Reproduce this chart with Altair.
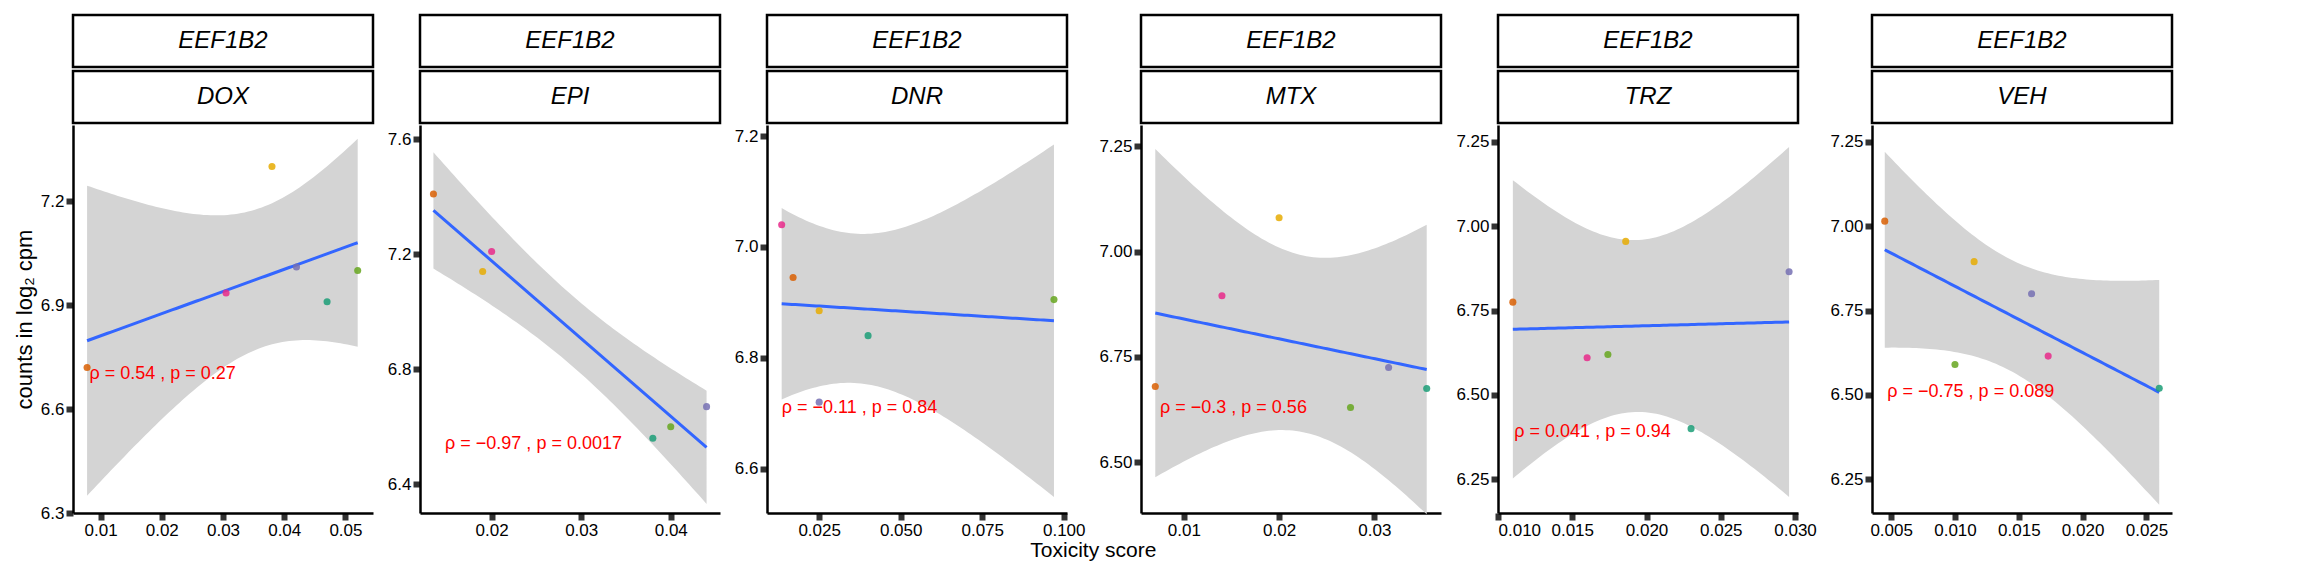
import altair as alt
import numpy as np
import pandas as pd

drugs = ["DOX", "EPI", "DNR", "MTX", "TRZ", "VEH"]
individuals = ["orange", "yellow", "pink", "purple", "teal", "green"]
ind_colors = ["#D95F02", "#E6AB02", "#E7298A", "#7570B3", "#1B9E77", "#66A61E"]

# toxicity score per individual, same order as `individuals`
tox = {
    "DOX": [0.0078, 0.0380, 0.0305, 0.0420, 0.0470, 0.0520],
    "EPI": [0.0135, 0.0190, 0.0200, 0.0440, 0.0380, 0.0400],
    "DNR": [0.0170, 0.0250, 0.0135, 0.0250, 0.0400, 0.0970],
    "MTX": [0.0070, 0.0200, 0.0140, 0.0315, 0.0355, 0.0275],
    "TRZ": [0.0110, 0.0186, 0.0160, 0.0296, 0.0230, 0.0174],
    "VEH": [0.0045, 0.0115, 0.0173, 0.0160, 0.0260, 0.0100],
}
# counts in log2 cpm
cpm = {
    "DOX": [6.72, 7.30, 6.935, 7.01, 6.91, 7.00],
    "EPI": [7.41, 7.14, 7.21, 6.67, 6.56, 6.60],
    "DNR": [6.945, 6.885, 7.04, 6.72, 6.84, 6.905],
    "MTX": [6.68, 7.08, 6.895, 6.725, 6.675, 6.63],
    "TRZ": [6.775, 6.955, 6.61, 6.865, 6.40, 6.62],
    "VEH": [7.015, 6.895, 6.615, 6.80, 6.52, 6.59],
}
labels = {
    "DOX": "ρ = 0.54 , p = 0.27",
    "EPI": "ρ = −0.97 , p = 0.0017",
    "DNR": "ρ = −0.11 , p = 0.84",
    "MTX": "ρ = −0.3 , p = 0.56",
    "TRZ": "ρ = 0.041 , p = 0.94",
    "VEH": "ρ = −0.75 , p = 0.089",
}
label_pos = {
    "DOX": (0.0082, 6.70), "EPI": (0.0148, 6.54), "DNR": (0.0135, 6.71),
    "MTX": (0.0075, 6.63), "TRZ": (0.0111, 6.39), "VEH": (0.0047, 6.51),
}
x_dom = {
    "DOX": [0.0055, 0.0545], "EPI": [0.012, 0.0455], "DNR": [0.009, 0.101],
    "MTX": [0.0055, 0.037], "TRZ": [0.010, 0.0302], "VEH": [0.0035, 0.027],
}
y_dom = {
    "DOX": [6.3, 7.42], "EPI": [6.3, 7.65], "DNR": [6.52, 7.22],
    "MTX": [6.38, 7.3], "TRZ": [6.15, 7.3], "VEH": [6.15, 7.3],
}
y_ticks = {
    "DOX": [6.3, 6.6, 6.9, 7.2], "EPI": [6.4, 6.8, 7.2, 7.6],
    "DNR": [6.6, 6.8, 7.0, 7.2], "MTX": [6.5, 6.75, 7.0, 7.25],
    "TRZ": [6.25, 6.5, 6.75, 7.0, 7.25], "VEH": [6.25, 6.5, 6.75, 7.0, 7.25],
}
y_fmt = {"DOX": ".1f", "EPI": ".1f", "DNR": ".1f", "MTX": ".2f", "TRZ": ".2f", "VEH": ".2f"}
x_fmt = {"DOX": ".2f", "EPI": ".2f", "DNR": ".3f", "MTX": ".2f", "TRZ": ".3f", "VEH": ".3f"}
x_ticks = {
    "DOX": [0.01, 0.02, 0.03, 0.04, 0.05], "EPI": [0.02, 0.03, 0.04],
    "DNR": [0.025, 0.05, 0.075, 0.1], "MTX": [0.01, 0.02, 0.03],
    "TRZ": [0.01, 0.015, 0.02, 0.025, 0.03], "VEH": [0.005, 0.01, 0.015, 0.02, 0.025],
}

W, H, SH = 300, 388, 52
FONT = "Liberation Sans"


def fit_band(x, y):
    # lm fit with 95% confidence band, like geom_smooth(method="lm")
    x, y = np.array(x), np.array(y)
    b, a = np.polyfit(x, y, 1)
    n = len(x)
    s = np.sqrt(np.sum((y - (a + b * x)) ** 2) / (n - 2))
    grid = np.linspace(x.min(), x.max(), 80)
    se = s * np.sqrt(1 / n + (grid - x.mean()) ** 2 / np.sum((x - x.mean()) ** 2))
    fit = a + b * grid
    return pd.DataFrame({"x": grid, "fit": fit, "lo": fit - 2.776 * se, "hi": fit + 2.776 * se})


def strip(text):
    df = pd.DataFrame({"t": [text]})
    box = alt.Chart(df).mark_rect(fill="white", stroke="black", strokeWidth=2.5).encode(
        x=alt.value(0), x2=alt.value(W), y=alt.value(0), y2=alt.value(SH))
    lab = alt.Chart(df).mark_text(font=FONT, fontSize=24, fontStyle="italic").encode(
        text="t:N", x=alt.value(W / 2), y=alt.value(SH / 2))
    return (box + lab).properties(width=W, height=SH)


panels = []
for i, d in enumerate(drugs):
    pts = pd.DataFrame({"x": tox[d], "y": cpm[d], "ind": individuals})
    band = fit_band(tox[d], cpm[d])
    xs = alt.Scale(domain=x_dom[d], nice=False, zero=False)
    ys = alt.Scale(domain=y_dom[d], nice=False, zero=False)
    xa = alt.Axis(values=x_ticks[d], format=x_fmt[d], title=None)
    ya = alt.Axis(values=y_ticks[d], format=y_fmt[d],
                  title="counts in log₂ cpm" if i == 0 else None)
    area = alt.Chart(band).mark_area(color="#D4D4D4").encode(
        x=alt.X("x:Q", scale=xs, axis=xa), y=alt.Y("lo:Q", scale=ys, axis=ya), y2="hi:Q")
    line = alt.Chart(band).mark_line(color="#3366FF", strokeWidth=3).encode(
        x=alt.X("x:Q", scale=xs), y=alt.Y("fit:Q", scale=ys))
    dots = alt.Chart(pts).mark_circle(size=50, opacity=0.85).encode(
        x=alt.X("x:Q", scale=xs), y=alt.Y("y:Q", scale=ys),
        color=alt.Color("ind:N", scale=alt.Scale(domain=individuals, range=ind_colors), legend=None))
    lx, ly = label_pos[d]
    txt = alt.Chart(pd.DataFrame({"x": [lx], "y": [ly], "t": [labels[d]]})).mark_text(
        align="left", baseline="middle", color="red", font=FONT, fontSize=18).encode(
        x=alt.X("x:Q", scale=xs), y=alt.Y("y:Q", scale=ys), text="t:N")
    plot = (area + line + dots + txt).properties(width=W, height=H)
    panels.append(alt.vconcat(strip("EEF1B2"), strip(d), plot, spacing=0))

chart = (
    alt.hconcat(*panels, spacing=12)
    .properties(title=alt.TitleParams("Toxicity score", orient="bottom", anchor="middle",
                                      font=FONT, fontSize=21, fontWeight="normal", offset=2))
    .configure_view(strokeWidth=0)
    .configure_axis(grid=False, domainColor="black", domainWidth=2.5, tickColor="#333333",
                    tickWidth=6, tickSize=7, labelFont=FONT, labelFontSize=17,
                    labelColor="black", titleFont=FONT, titleFontSize=22,
                    titleFontWeight="normal", titleColor="black")
)
chart.save("out.html", embed_options={"renderer": "svg", "actions": False})
